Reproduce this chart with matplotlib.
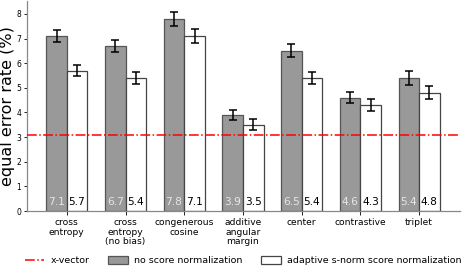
import numpy as np
import matplotlib
matplotlib.use('Agg')
import matplotlib.pyplot as plt

# data
methods = ['cross\nentropy', 'cross\nentropy\n(no bias)', 'congenerous\ncosine',
           'additive\nangular\nmargin', 'center', 'contrastive', 'triplet']
eer_none = [7.1, 6.7, 7.8, 3.9, 6.5, 4.6, 5.4]
err_none = [0.25, 0.23, 0.29, 0.2, 0.26, 0.22, 0.29]
eer_snorm = [5.7, 5.4, 7.1, 3.5, 5.4, 4.3, 4.8]
err_snorm = [0.24, 0.23, 0.28, 0.22, 0.23, 0.23, 0.27]
xvector_eer = 3.1

fig = plt.figure(figsize=(4.63, 2.71), dpi=100)
ax = fig.add_axes([0.058, 0.221, 0.936, 0.776])

x = np.arange(len(methods))
w = 0.35
ekw = dict(ecolor='black', elinewidth=1.1, capsize=3, capthick=1.1)
ax.bar(x, eer_none, width=-w, align='edge', color='#999999', edgecolor='#555555',
       linewidth=0.9, yerr=err_none, error_kw=ekw,
       label='no score normalization', zorder=2)
ax.bar(x, eer_snorm, width=w, align='edge', color='white', edgecolor='#444444',
       linewidth=0.9, yerr=err_snorm, error_kw=ekw,
       label='adaptive s-norm score normalization', zorder=2)
ax.axhline(xvector_eer, color='red', linestyle='-.', linewidth=1.1, label='x-vector', zorder=3)

for xi, v in zip(x, eer_none):
    ax.text(xi - w / 2, 0.36, f'{v:.1f}', ha='center', va='center', fontsize=7.7, color='#e6e6e6', zorder=4)
for xi, v in zip(x, eer_snorm):
    ax.text(xi + w / 2, 0.36, f'{v:.1f}', ha='center', va='center', fontsize=7.7, color='black', zorder=4)

ax.set_xlim(-0.68, 6.7)
ax.set_ylim(0, 8.53)
ax.set_yticks(range(9))
ax.set_xticks(x)
ax.set_xticklabels(methods, fontsize=6.6, linespacing=1.1)
ax.tick_params(axis='y', labelsize=5.5, length=2, width=0.6, pad=2)
ax.tick_params(axis='x', length=3, width=0.6, pad=2)
ax.set_ylabel('equal error rate (%)', fontsize=11.5, labelpad=1)
for s in ['top', 'right']:
    ax.spines[s].set_visible(False)
for s in ['left', 'bottom']:
    ax.spines[s].set_color('#888888')
    ax.spines[s].set_linewidth(0.9)

handles, labels = ax.get_legend_handles_labels()
order = [labels.index('x-vector'), labels.index('no score normalization'),
         labels.index('adaptive s-norm score normalization')]
fig.legend([handles[i] for i in order], [labels[i] for i in order], loc='lower center',
           bbox_to_anchor=(0.525, -0.01), ncol=3, frameon=False, fontsize=6.8,
           handlelength=2.1, handleheight=0.8, handletextpad=0.7, columnspacing=1.9)

fig.savefig('out.png', dpi=100)
